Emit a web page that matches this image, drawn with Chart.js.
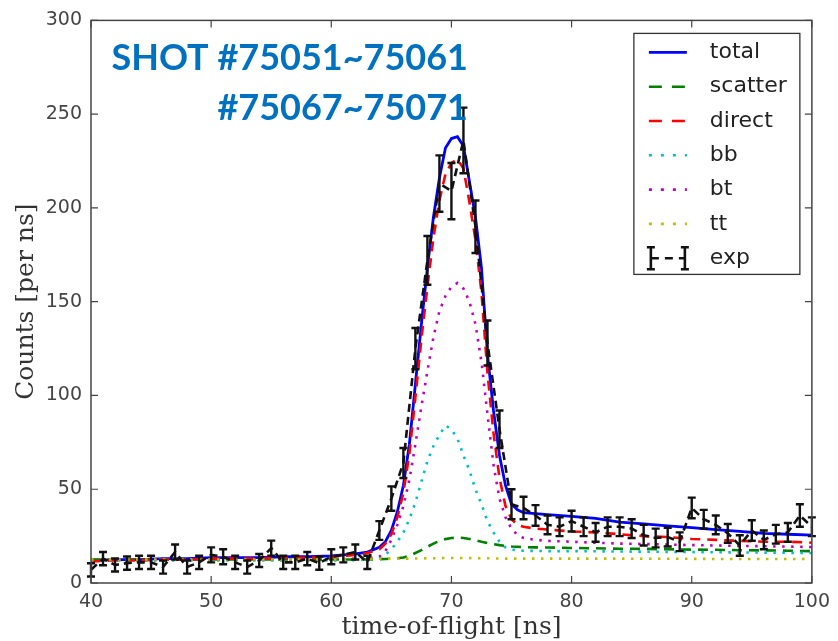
<!DOCTYPE html>
<html>
<head>
<meta charset="utf-8">
<script src="https://cdn.jsdelivr.net/npm/chart.js@4.4.1/dist/chart.umd.min.js"></script>
<style>
  html, body { margin: 0; padding: 0; background: #ffffff; }
  #wrap { width: 838px; height: 641px; position: relative; }
</style>
</head>
<body>
<div id="wrap"><canvas id="tof" width="838" height="641"></canvas></div>
<script>
// Model time grid (ns) and fitted components (counts per ns)
const modelTime = [40,42,44,46,48,50,52,54,56,58,60,61,62,63,64,64.5,65,65.5,66,66.5,67,67.5,68,68.5,69,69.5,70,70.5,71,71.5,72,72.5,73,73.5,74,74.5,75,75.5,76,77,78,80,82,84,86,88,90,92,94,96,98,100];

const totalFit = [12,12.5,12.5,13,13,13.5,13.5,13.5,14,14,14.5,15,15.5,16.5,19,22,28,38,52,74,106,138,168,195,216,232,237,238,233,214,195,168,122,92,68,52,42,39,37.5,37,36.5,35.5,34.5,32.5,31.5,30.5,29.5,28.5,27.5,26.5,26,25.5];

const scatterFit = [12.5,12.5,12.5,12.5,12.5,12.5,12.5,12.5,12.5,12.5,12.5,12.5,12.5,12.5,12.7,12.8,13,13.2,13.6,14.5,16,17.5,19.3,21,22.4,23.4,24,24.2,24,23.5,22.8,22,21.3,20.7,20.2,19.8,19.5,19.3,19.1,19,18.9,18.7,18.5,18.3,18.2,18,17.8,17.7,17.5,17.4,17.2,17];

const directFit = [11.5,12,12,12.5,12.5,13,13,13,13.5,13.5,14,14.5,15,16,18,21,26,35,48,69,99,130,158,184,204,218,224,226,221,203,183,155,112,80,56,41,34,31,30,29,28.5,27.5,27,26,25,24.5,23.5,23,22.5,22,22,21.5];

const bbFit = [12,12,12,12,12,12,12,12,12,12,12,12,12.2,12.5,13.5,15,18,22,27,34,43,54,65,73,79,84,82,77,68,60,50,42,33,27,22,19,17.8,17.4,17.2,17.1,17,17,16.9,16.8,16.7,16.6,16.5,16.4,16.3,16.2,16.1,16];

const btFit = [12.5,12.5,12.5,12.5,12.5,12.5,12.5,12.5,12.5,12.5,12.6,12.8,13,13.3,14,17,23,31,41,55,74,94,113,131,145,153,158,160,157,150,138,118,90,63,45,35,29,25.5,24,23,22.5,22,21.5,21,20.8,20.5,20.2,20,19.8,19.6,19.4,19.2];

const ttFit = [12.5,12.5,12.5,12.5,12.5,12.5,12.5,12.5,12.5,12.5,12.5,12.6,12.7,12.8,13,13,13,13,13,13,13.1,13.1,13.2,13.2,13.3,13.3,13.3,13.3,13.3,13.3,13.2,13.2,13.2,13.1,13.1,13,13,13,13,13,13,13,13,13,12.9,12.9,12.9,12.8,12.8,12.8,12.8,12.8];

// Measured time-of-flight histogram with statistical errors
const expTime = [40,41,42,43,44,45,46,47,48,49,50,51,52,53,54,55,56,57,58,59,60,61,62,63,64,65,66,67,68,69,70,71,72,73,74,75,76,77,78,79,80,81,82,83,84,85,86,87,88,89,90,91,92,93,94,95,96,97,98,99,100];
const expCounts = [7,13,9.6,10.6,11,11,8.5,16.5,8.5,11,15,14,11,8.5,12,18.6,11,11,13,10.6,14,15,16.5,11,28,45,64,125,172,213,209,236,190,128,82,42,40,36,31,30,33,30,27,30,30,29,25.5,24,24.5,22,40,34,31,26.5,20,28,23,26,27,36,30];
const expError = [3.5,3.5,3.5,3.5,3.5,3.5,3.5,4,3.5,3.5,4,4,3.5,3.5,3.5,4,3.5,3.5,3.5,3.5,4,4,4,3.5,5,6.5,8,11,13,15,15,17.5,14,12,10,8,6,5.5,5,5,5.5,5,5,5,5,5,5.5,5,5,5,5.5,5,5,5,5.5,5.5,5,5,5,6,5];

const xTicks = [40,50,60,70,80,90,100];
const yTicks = [0,50,100,150,200,250,300];
const shotLines = ['SHOT #75051~75061', '#75067~75071'];
const xTitle = 'time-of-flight [ns]';
const yTitle = 'Counts [per ns]';

const DASH = [10, 7];
const DOT = [2.5, 6.5];

const pts = (xs, ys) => xs.map((x, i) => ({ x: x, y: ys[i] }));

const series = [
  { label: 'total',   data: pts(modelTime, totalFit),   borderColor: '#0000ff', borderDash: [],   order: 6, borderWidth: 2.8 },
  { label: 'scatter', data: pts(modelTime, scatterFit), borderColor: '#008000', borderDash: DASH, order: 5 },
  { label: 'direct',  data: pts(modelTime, directFit),  borderColor: '#ff0000', borderDash: DASH, order: 4 },
  { label: 'bb',      data: pts(modelTime, bbFit),      borderColor: '#00bfbf', borderDash: DOT,  order: 3 },
  { label: 'bt',      data: pts(modelTime, btFit),      borderColor: '#bf00bf', borderDash: DOT,  order: 2 },
  { label: 'tt',      data: pts(modelTime, ttFit),      borderColor: '#bfbf00', borderDash: DOT,  order: 1 },
  { label: 'exp',     data: pts(expTime, expCounts),    borderColor: '#111111', borderDash: [8, 5], order: 0, errors: expError }
].map(s => Object.assign({ borderWidth: 2.6, pointRadius: 0, tension: 0, fill: false }, s));

// Frame, inward ticks, error bars, legend box and shot annotation
const decorations = {
  id: 'decorations',
  afterDatasetsDraw(chart) {
    const ctx = chart.ctx, xs = chart.scales.x, ys = chart.scales.y;
    const ds = chart.data.datasets.find(d => d.errors);
    ctx.save();
    ctx.strokeStyle = '#111111';
    ctx.lineWidth = 2.4;
    ctx.setLineDash([]);
    ds.data.forEach((p, i) => {
      const e = ds.errors[i];
      const px = xs.getPixelForValue(p.x);
      const y1 = ys.getPixelForValue(p.y - e);
      const y2 = ys.getPixelForValue(p.y + e);
      ctx.beginPath();
      ctx.moveTo(px, y1); ctx.lineTo(px, y2);
      ctx.moveTo(px - 4, y1); ctx.lineTo(px + 4, y1);
      ctx.moveTo(px - 4, y2); ctx.lineTo(px + 4, y2);
      ctx.stroke();
    });
    ctx.restore();
  },
  afterDraw(chart) {
    const ctx = chart.ctx, a = chart.chartArea, xs = chart.scales.x, ys = chart.scales.y;
    ctx.save();
    ctx.setLineDash([]);
    // axes frame
    ctx.strokeStyle = '#444444';
    ctx.lineWidth = 1.5;
    ctx.strokeRect(a.left, a.top, a.right - a.left, a.bottom - a.top);
    // inward tick marks on all four sides
    ctx.lineWidth = 1.2;
    ctx.beginPath();
    xTicks.forEach(v => {
      const px = xs.getPixelForValue(v);
      ctx.moveTo(px, a.bottom); ctx.lineTo(px, a.bottom - 7);
      ctx.moveTo(px, a.top); ctx.lineTo(px, a.top + 7);
    });
    yTicks.forEach(v => {
      const py = ys.getPixelForValue(v);
      ctx.moveTo(a.left, py); ctx.lineTo(a.left + 7, py);
      ctx.moveTo(a.right, py); ctx.lineTo(a.right - 7, py);
    });
    ctx.stroke();

    // legend
    const bx = a.right - 178, by = a.top + 13, bw = 166, bh = 241;
    ctx.fillStyle = '#ffffff';
    ctx.fillRect(bx, by, bw, bh);
    ctx.strokeStyle = '#333333';
    ctx.lineWidth = 1.3;
    ctx.strokeRect(bx, by, bw, bh);
    const x0 = bx + 15, x1 = bx + 53, tx = bx + 76;
    ctx.font = '22px "DejaVu Sans"';
    ctx.textBaseline = 'middle';
    ctx.textAlign = 'left';
    chart.data.datasets.forEach((d, i) => {
      const ry = by + 19 + i * 34.3;
      ctx.strokeStyle = d.borderColor;
      ctx.lineWidth = d.borderWidth;
      if (d.errors) {
        ctx.setLineDash([]);
        ctx.beginPath();
        [x0 + 2, x1 - 2].forEach(ex => {
          ctx.moveTo(ex, ry - 11); ctx.lineTo(ex, ry + 11);
          ctx.moveTo(ex - 4, ry - 11); ctx.lineTo(ex + 4, ry - 11);
          ctx.moveTo(ex - 4, ry + 11); ctx.lineTo(ex + 4, ry + 11);
        });
        ctx.stroke();
        ctx.setLineDash([8, 6]);
        ctx.beginPath(); ctx.moveTo(x0 + 2, ry); ctx.lineTo(x1 - 2, ry); ctx.stroke();
      } else {
        ctx.setLineDash(d.borderDash === DOT ? [3, 9] : (d.borderDash.length ? [13, 10] : []));
        ctx.beginPath(); ctx.moveTo(x0, ry); ctx.lineTo(x1, ry); ctx.stroke();
      }
      ctx.setLineDash([]);
      ctx.fillStyle = '#222222';
      ctx.fillText(d.label, tx, ry);
    });

    // shot annotation
    ctx.fillStyle = '#0070c0';
    ctx.font = 'bold 36px Lato';
    ctx.textAlign = 'right';
    ctx.textBaseline = 'alphabetic';
    ctx.fillText(shotLines[0], 468, 70);
    ctx.fillText(shotLines[1], 468, 120);
    ctx.restore();
  }
};

new Chart(document.getElementById('tof'), {
  type: 'line',
  data: { datasets: series },
  options: {
    responsive: false,
    animation: false,
    devicePixelRatio: 1,
    layout: { padding: { left: 0, top: 20, right: 20, bottom: 0 } },
    plugins: { legend: { display: false }, tooltip: { enabled: false } },
    scales: {
      x: {
        type: 'linear', min: 40, max: 100,
        afterBuildTicks: s => { s.ticks = xTicks.map(v => ({ value: v })); },
        afterFit: s => { s.height = 58; },
        grid: { display: false, drawTicks: false },
        border: { display: false },
        ticks: { color: '#444444', padding: 8, font: { family: 'DejaVu Sans', size: 19 } },
        title: { display: true, text: xTitle, color: '#333333', padding: { top: 0, bottom: 1 },
                 font: { family: 'DejaVu Serif', size: 25, lineHeight: 1 } }
      },
      y: {
        type: 'linear', min: 0, max: 300,
        afterBuildTicks: s => { s.ticks = yTicks.map(v => ({ value: v })); },
        afterFit: s => { s.width = 91; },
        grid: { display: false, drawTicks: false },
        border: { display: false },
        ticks: { color: '#444444', padding: 9, font: { family: 'DejaVu Sans', size: 19 } },
        title: { display: true, text: yTitle, color: '#333333', padding: { top: 14, bottom: 0 },
                 font: { family: 'DejaVu Serif', size: 25, lineHeight: 1 } }
      }
    }
  },
  plugins: [decorations]
});
</script>
</body>
</html>
